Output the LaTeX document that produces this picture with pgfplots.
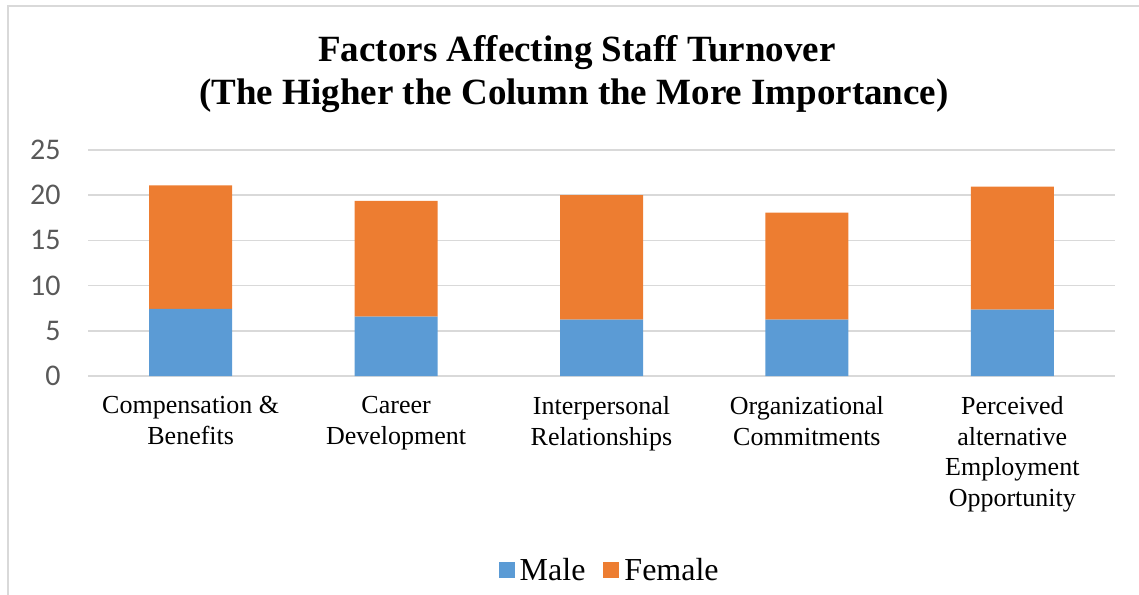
\documentclass[border=0pt]{standalone}
\usepackage{pgfplots}
\pgfplotsset{compat=1.18}
\usepackage{fontspec}
\setmainfont{Liberation Serif}
\newfontfamily\carlito{Carlito}
\definecolor{male}{HTML}{5B9BD5}
\definecolor{female}{HTML}{ED7D31}
\definecolor{gridc}{HTML}{D9D9D9}
\definecolor{ytxt}{HTML}{595959}
\begin{document}
\begin{tikzpicture}[x=1pt,y=1pt]
\useasboundingbox (0pt,0pt) rectangle (1139pt,594pt);
\draw[gridc, line width=1.5pt] (8pt,-5pt) -- (8pt,588pt) -- (1145pt,588pt);
\node[anchor=base, font=\bfseries\fontsize{37}{43}\selectfont] at (577pt,532pt) {Factors Affecting Staff Turnover};
\node[anchor=base, font=\bfseries\fontsize{37}{43}\selectfont] at (574pt,489pt) {(The Higher the Column the More Importance)};
\begin{axis}[
  at={(88pt,218pt)}, anchor=south west,
  width=1027pt, height=226pt, scale only axis,
  ybar stacked, bar width=83pt,
  xmin=-0.5, xmax=4.5, ymin=0, ymax=25,
  ytick={0,5,...,25},
  xtick=data,
  xticklabels={{Compensation \&\\Benefits},{Career\\Development},{Interpersonal\\Relationships},{Organizational\\Commitments},{Perceived\\alternative\\Employment\\Opportunity}},
  xticklabel style={align=center, font=\fontsize{26}{30.5}\selectfont, yshift=-17pt},
  yticklabel style={font=\carlito\fontsize{30}{32}\selectfont, text=ytxt, xshift=-24pt},
  /pgf/number format/assume math mode=true,
  major tick length=0pt,
  axis line style={draw=none},
  ymajorgrids, grid style={gridc, line width=1.5pt},
  legend style={at={(0.508,-0.858)}, anchor=center, draw=none, legend columns=2,
    font=\fontsize{32}{34}\selectfont,
    /tikz/every odd column/.append style={column sep=3pt},
    /tikz/every even column/.append style={column sep=16pt}},
  legend image code/.code={\fill[#1,draw=none] (0pt,-8pt) rectangle (16pt,8pt);},
]
\addplot[fill=male, draw=none] coordinates {(0,7.43) (1,6.56) (2,6.23) (3,6.23) (4,7.33)};
\addplot[fill=female, draw=none] coordinates {(0,13.67) (1,12.81) (2,13.77) (3,11.83) (4,13.62)};
\legend{Male, Female}
\end{axis}
\end{tikzpicture}
\end{document}
